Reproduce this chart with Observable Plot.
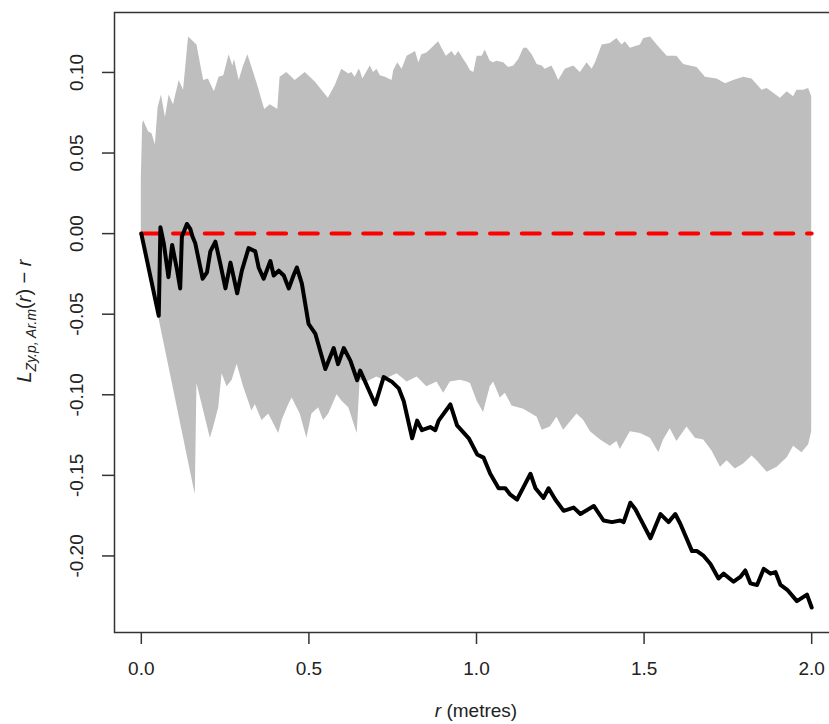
<!DOCTYPE html>
<html>
<head>
<meta charset="utf-8">
<script src="https://cdn.jsdelivr.net/npm/d3@7"></script>
<script src="https://cdn.jsdelivr.net/npm/@observablehq/plot@0.6"></script>
<style>
  html, body { margin: 0; padding: 0; background: #fff; overflow: hidden; }
  #chart svg { display: block; }
</style>
</head>
<body>
<div id="chart"></div>
<script>
// ---- data ----
const upperR = [0, 0.004, 0.007, 0.022, 0.032, 0.042, 0.050, 0.060, 0.072, 0.083, 0.096, 0.113, 0.126, 0.141, 0.156, 0.166, 0.186, 0.200, 0.218, 0.232, 0.246, 0.262, 0.273, 0.278, 0.292, 0.305, 0.318, 0.335, 0.350, 0.368, 0.385, 0.407, 0.414, 0.434, 0.459, 0.489, 0.519, 0.558, 0.579, 0.598, 0.619, 0.628, 0.638, 0.650, 0.653, 0.661, 0.683, 0.693, 0.703, 0.713, 0.728, 0.748, 0.753, 0.765, 0.778, 0.793, 0.818, 0.828, 0.837, 0.852, 0.867, 0.887, 0.897, 0.910, 0.927, 0.937, 0.947, 0.962, 0.972, 0.982, 0.992, 1.002, 1.017, 1.026, 1.041, 1.051, 1.061, 1.081, 1.096, 1.111, 1.126, 1.141, 1.151, 1.166, 1.181, 1.196, 1.205, 1.225, 1.235, 1.245, 1.265, 1.290, 1.310, 1.330, 1.345, 1.355, 1.375, 1.399, 1.419, 1.434, 1.444, 1.459, 1.489, 1.499, 1.519, 1.539, 1.569, 1.598, 1.618, 1.658, 1.683, 1.718, 1.743, 1.767, 1.797, 1.822, 1.852, 1.867, 1.907, 1.927, 1.946, 1.956, 1.976, 1.991, 2.000];
const upperV = [0.034, 0.068, 0.070, 0.063, 0.062, 0.055, 0.078, 0.086, 0.072, 0.086, 0.080, 0.095, 0.089, 0.122, 0.119, 0.117, 0.095, 0.096, 0.088, 0.097, 0.098, 0.111, 0.104, 0.108, 0.095, 0.104, 0.111, 0.100, 0.090, 0.077, 0.080, 0.077, 0.097, 0.100, 0.095, 0.100, 0.094, 0.084, 0.092, 0.102, 0.099, 0.100, 0.097, 0.102, 0.101, 0.096, 0.104, 0.100, 0.102, 0.098, 0.097, 0.095, 0.101, 0.106, 0.102, 0.110, 0.113, 0.106, 0.111, 0.112, 0.115, 0.119, 0.115, 0.110, 0.113, 0.110, 0.113, 0.108, 0.105, 0.101, 0.100, 0.110, 0.110, 0.114, 0.107, 0.106, 0.107, 0.106, 0.103, 0.104, 0.108, 0.115, 0.115, 0.111, 0.105, 0.104, 0.102, 0.104, 0.100, 0.095, 0.102, 0.104, 0.100, 0.106, 0.102, 0.106, 0.117, 0.118, 0.121, 0.117, 0.119, 0.115, 0.117, 0.121, 0.122, 0.117, 0.110, 0.110, 0.105, 0.103, 0.097, 0.096, 0.093, 0.095, 0.097, 0.096, 0.089, 0.090, 0.084, 0.088, 0.085, 0.089, 0.089, 0.090, 0.085];

const lowerR = [0, 0.052, 0.161, 0.166, 0.206, 0.216, 0.231, 0.241, 0.256, 0.271, 0.286, 0.305, 0.330, 0.340, 0.360, 0.380, 0.410, 0.420, 0.440, 0.450, 0.474, 0.494, 0.509, 0.529, 0.544, 0.559, 0.584, 0.599, 0.619, 0.644, 0.653, 0.673, 0.703, 0.723, 0.763, 0.793, 0.823, 0.852, 0.882, 0.902, 0.922, 0.952, 0.972, 0.982, 1.002, 1.021, 1.041, 1.051, 1.071, 1.086, 1.106, 1.141, 1.181, 1.196, 1.220, 1.240, 1.260, 1.300, 1.320, 1.340, 1.370, 1.399, 1.419, 1.429, 1.459, 1.489, 1.519, 1.544, 1.558, 1.578, 1.598, 1.628, 1.653, 1.678, 1.703, 1.728, 1.748, 1.772, 1.797, 1.822, 1.837, 1.867, 1.897, 1.927, 1.946, 1.971, 1.991, 2.000];
const lowerV = [0, -0.052, -0.162, -0.093, -0.127, -0.120, -0.108, -0.087, -0.095, -0.091, -0.081, -0.095, -0.110, -0.106, -0.116, -0.112, -0.124, -0.116, -0.106, -0.102, -0.112, -0.127, -0.112, -0.108, -0.116, -0.112, -0.100, -0.104, -0.108, -0.124, -0.091, -0.092, -0.089, -0.091, -0.087, -0.092, -0.089, -0.095, -0.092, -0.099, -0.092, -0.091, -0.092, -0.093, -0.104, -0.111, -0.095, -0.092, -0.102, -0.099, -0.107, -0.109, -0.114, -0.122, -0.120, -0.114, -0.122, -0.112, -0.116, -0.123, -0.128, -0.132, -0.129, -0.134, -0.123, -0.124, -0.127, -0.136, -0.128, -0.121, -0.129, -0.120, -0.127, -0.128, -0.135, -0.145, -0.141, -0.146, -0.143, -0.138, -0.141, -0.148, -0.145, -0.139, -0.132, -0.136, -0.131, -0.123];

const obsR = [0, 0.052, 0.057, 0.067, 0.081, 0.092, 0.107, 0.116, 0.121, 0.136, 0.146, 0.153, 0.161, 0.183, 0.196, 0.206, 0.221, 0.236, 0.251, 0.266, 0.286, 0.300, 0.320, 0.340, 0.350, 0.365, 0.385, 0.395, 0.410, 0.425, 0.440, 0.454, 0.464, 0.479, 0.499, 0.519, 0.549, 0.574, 0.587, 0.604, 0.624, 0.644, 0.653, 0.698, 0.723, 0.748, 0.768, 0.783, 0.808, 0.823, 0.837, 0.862, 0.877, 0.887, 0.922, 0.942, 0.977, 1.002, 1.021, 1.041, 1.066, 1.086, 1.101, 1.121, 1.146, 1.161, 1.176, 1.200, 1.215, 1.235, 1.260, 1.290, 1.310, 1.350, 1.379, 1.404, 1.429, 1.439, 1.459, 1.474, 1.489, 1.519, 1.549, 1.573, 1.593, 1.608, 1.643, 1.658, 1.678, 1.698, 1.722, 1.737, 1.767, 1.787, 1.802, 1.817, 1.837, 1.857, 1.877, 1.892, 1.907, 1.927, 1.956, 1.986, 2.000];
const obsV = [0, -0.051, 0.004, -0.006, -0.027, -0.007, -0.023, -0.034, -0.002, 0.006, 0.003, -0.002, -0.006, -0.028, -0.024, -0.011, -0.005, -0.019, -0.034, -0.018, -0.037, -0.023, -0.009, -0.011, -0.021, -0.028, -0.017, -0.026, -0.023, -0.026, -0.034, -0.026, -0.021, -0.031, -0.056, -0.062, -0.084, -0.071, -0.081, -0.071, -0.079, -0.091, -0.085, -0.106, -0.089, -0.092, -0.096, -0.104, -0.127, -0.116, -0.122, -0.120, -0.122, -0.116, -0.106, -0.119, -0.127, -0.137, -0.139, -0.149, -0.158, -0.158, -0.162, -0.165, -0.155, -0.149, -0.158, -0.164, -0.158, -0.165, -0.172, -0.170, -0.174, -0.169, -0.178, -0.179, -0.178, -0.179, -0.167, -0.171, -0.177, -0.189, -0.174, -0.179, -0.174, -0.180, -0.197, -0.197, -0.200, -0.205, -0.214, -0.211, -0.216, -0.213, -0.209, -0.217, -0.218, -0.208, -0.211, -0.210, -0.218, -0.221, -0.228, -0.224, -0.232];

const theoR = [0, 2];
const theoV = [0, 0];

const xTicks = [0, 0.5, 1.0, 1.5, 2.0];
const yTicks = [0.10, 0.05, 0.00, -0.05, -0.10, -0.15, -0.20];

// ---- build tables ----
const upper = upperR.map((r, i) => ({r, v: upperV[i]}));
const lower = lowerR.map((r, i) => ({r, v: lowerV[i]}));
const obs = obsR.map((r, i) => ({r, v: obsV[i]}));
const theo = theoR.map((r, i) => ({r, v: theoV[i]}));

const W = 829, H = 724;
const xDomain = [-0.08, 2.08];
const yDomain = [-0.2475, 0.1372];
const FONT = "'Liberation Sans', Arial, sans-serif";
const axisColor = "#333";

const chart = Plot.plot({
  width: W,
  height: H,
  marginLeft: 114,
  marginRight: -9,
  marginTop: 12,
  marginBottom: 92,
  style: {fontFamily: FONT, background: "#fff", overflow: "hidden"},
  x: {domain: xDomain},
  y: {domain: yDomain},
  marks: [
    Plot.areaY(upper, {x: "r", y1: () => 0, y2: "v", fill: "#BEBEBE", curve: "linear"}),
    Plot.areaY(lower, {x: "r", y1: "v", y2: () => 0, fill: "#BEBEBE", curve: "linear"}),
    Plot.line(theo, {x: "r", y: "v", stroke: "#FF0000", strokeWidth: 4, strokeDasharray: "18,13.7"}),
    Plot.line(obs, {x: "r", y: "v", stroke: "#000", strokeWidth: 4, strokeLinejoin: "round", strokeLinecap: "round"}),
    Plot.frame({stroke: axisColor, strokeWidth: 1.5}),
    Plot.axisX(xTicks, {tickSize: 12, tickFormat: () => "", label: null, stroke: axisColor, strokeWidth: 1.5}),
    Plot.axisY(yTicks, {tickSize: 12, tickFormat: () => "", label: null, stroke: axisColor, strokeWidth: 1.5}),
    Plot.text(xTicks, {x: d => d, y: () => yDomain[0], dy: 36, text: d => d.toFixed(1), lineAnchor: "middle", textAnchor: "middle", fontSize: 19, fill: "#222"}),
    Plot.text(yTicks, {x: () => xDomain[0], y: d => d, dx: -37.5, text: d => d.toFixed(2), rotate: -90, lineAnchor: "middle", textAnchor: "middle", fontSize: 19, fill: "#222"})
  ]
});

document.getElementById("chart").appendChild(chart);

// ---- axis titles (R plotmath-like) ----
const svg = d3.select(chart);
const NS = "http://www.w3.org/2000/svg";
// x title
const xt = svg.append("text")
  .attr("x", 476).attr("y", 712)
  .attr("text-anchor", "middle").attr("dominant-baseline", "middle")
  .attr("font-family", FONT).attr("font-size", 19).attr("fill", "#222");
xt.append("tspan").attr("font-style", "italic").text("r");
xt.append("tspan").text(" (metres)");

// y title
const yt = svg.append("text")
  .attr("transform", "translate(24,321) rotate(-90)")
  .attr("text-anchor", "middle")
  .attr("font-family", FONT).attr("font-size", 20).attr("fill", "#222")
  .attr("dy", "0.35em");
yt.append("tspan").attr("font-style", "italic").text("L");
yt.append("tspan").attr("font-style", "italic").attr("font-size", 14).attr("dy", 5).text("Zy.p, Ar.m");
yt.append("tspan").attr("dy", -5).text("(");
yt.append("tspan").attr("font-style", "italic").text("r");
yt.append("tspan").text(") \u2212 ");
yt.append("tspan").attr("font-style", "italic").text("r");
</script>
</body>
</html>
